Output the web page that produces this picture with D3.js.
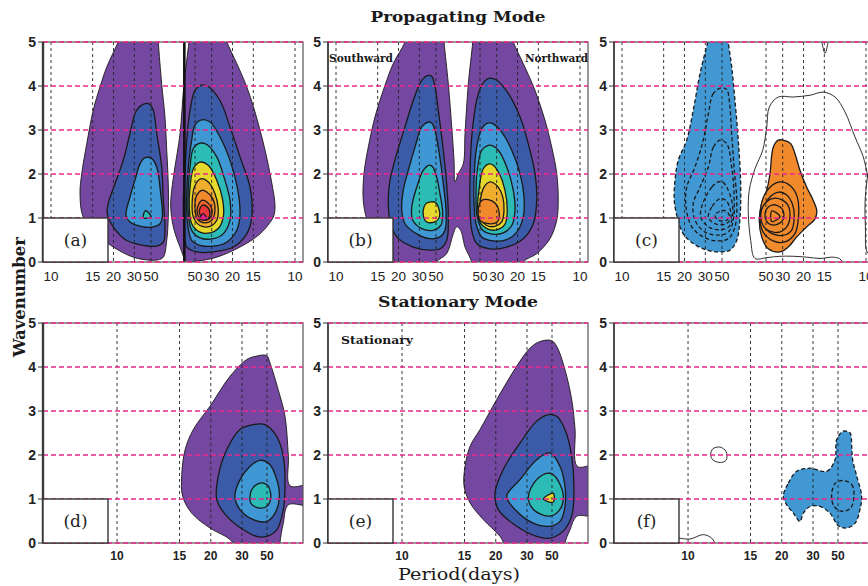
<!DOCTYPE html>
<html>
<meta charset="utf-8">
<head>
<script src="https://d3js.org/d3.v7.min.js"></script>
<style>
  body { margin: 0; background: #fff; }
</style>
</head>
<body>
<script>

// ---- data: contours as [level, [[frequency (cpd, + northward), wavenumber], ...]]
const periods = [10, 15, 20, 30, 50];
const waveTicks = [0, 1, 2, 3, 4, 5];
const panelLabels = ["(a)", "(b)", "(c)", "(d)", "(e)", "(f)"];
const aMarkFreq = 0.0103;

const aContours = [
  [1, [[-0.040,5.4],[-0.0462,5],[-0.0554,4.43],[-0.0608,3.98],[-0.0662,3.45],[-0.0714,2.69],[-0.0754,2.01],[-0.0768,1.55],[-0.0742,1.02],[-0.0634,0.64],[-0.0502,0.34],[-0.0342,0.11],[-0.0208,0.04],[-0.0134,0.05],[-0.0088,0.11],[-0.0057,0.49],[-0.0043,1.02],[-0.0043,1.78],[-0.0057,2.54],[-0.0073,3.3],[-0.0103,4.05],[-0.0134,5],[-0.0145,5.4]]],
  [2, [[-0.0248,3.6],[-0.0314,3.45],[-0.0368,2.92],[-0.0422,2.31],[-0.0488,1.78],[-0.0542,1.33],[-0.055,1.1],[-0.0502,0.8],[-0.0394,0.49],[-0.0262,0.38],[-0.0148,0.36],[-0.0088,0.45],[-0.0073,0.8],[-0.0088,1.4],[-0.0103,2.16],[-0.0148,2.92],[-0.0179,3.45],[-0.0208,3.58]]],
  [3, [[-0.0248,2.37],[-0.0288,2.23],[-0.0328,1.86],[-0.0368,1.48],[-0.040,1.06],[-0.0368,0.91],[-0.0262,0.8],[-0.0179,0.8],[-0.0118,0.87],[-0.0097,1.02],[-0.0112,1.55],[-0.0148,2.16],[-0.0194,2.35]]],
  [4, [[-0.026,1.0],[-0.0245,1.17],[-0.020,1.03]]],
  [1, [[0.016,5.4],[0.0145,5],[0.010,4.05],[0.0064,2.92],[0.0018,2.16],[-0.0012,1.63],[-0.0021,1.25],[0.0003,0.8],[0.0064,0.34],[0.0125,0.02],[0.0214,0.02],[0.0374,0.11],[0.056,0.34],[0.072,0.64],[0.0826,1.02],[0.084,1.25],[0.080,2.01],[0.072,3.0],[0.0614,3.98],[0.0454,5],[0.039,5.4]]],
  [2, [[0.0254,4.02],[0.020,3.9],[0.0155,3.45],[0.0125,2.77],[0.0109,2.01],[0.0094,1.4],[0.010,0.8],[0.0125,0.34],[0.0214,0.23],[0.0346,0.23],[0.0506,0.34],[0.0614,0.64],[0.0654,1.02],[0.064,1.7],[0.056,2.39],[0.048,3.07],[0.040,3.67],[0.0306,3.99]]],
  [3, [[0.0254,3.23],[0.020,3.11],[0.017,2.77],[0.0139,2.16],[0.0125,1.55],[0.013,0.95],[0.017,0.49],[0.024,0.38],[0.0346,0.36],[0.0454,0.45],[0.0534,0.72],[0.056,1.1],[0.0538,1.7],[0.048,2.31],[0.040,2.84],[0.032,3.18]]],
  [4, [[0.024,2.7],[0.0185,2.58],[0.0155,2.16],[0.0139,1.63],[0.0139,1.1],[0.017,0.72],[0.024,0.55],[0.0346,0.53],[0.0426,0.64],[0.048,0.95],[0.048,1.4],[0.0432,1.93],[0.0374,2.39],[0.0294,2.67]]],
  [5, [[0.024,2.27],[0.0185,2.12],[0.0155,1.7],[0.0148,1.25],[0.017,0.87],[0.024,0.68],[0.032,0.66],[0.0386,0.76],[0.0426,1.02],[0.0422,1.4],[0.0374,1.86],[0.0306,2.2]]],
  [6, [[0.0246,1.89],[0.020,1.74],[0.0175,1.4],[0.0185,1.02],[0.024,0.83],[0.032,0.81],[0.0374,0.95],[0.0386,1.21],[0.036,1.55],[0.0306,1.82]]],
  [7, [[0.0254,1.63],[0.0214,1.52],[0.020,1.25],[0.0218,0.98],[0.0272,0.89],[0.0334,0.95],[0.036,1.17],[0.0342,1.44],[0.0294,1.59]]],
  [8, [[0.0254,1.4],[0.0218,1.21],[0.0232,1.02],[0.028,0.95],[0.0326,1.02],[0.0334,1.21],[0.0298,1.36]]],
  [9, [[0.0258,1.29],[0.0234,1.14],[0.0258,1.01],[0.0298,0.98],[0.032,1.1],[0.0298,1.25]]],
  [10, [[0.0235,0.97],[0.0266,1.1],[0.0295,0.97]]]
];

const bContours = [
  [1, [[-0.041,5.4],[-0.0448,5],[-0.0542,4.51],[-0.0622,3.9],[-0.0688,3.3],[-0.0742,2.61],[-0.0776,2.01],[-0.0782,1.4],[-0.075,0.95],[-0.0674,0.57],[-0.0582,0.27],[-0.0528,0],[-0.050,-0.3],[-0.021,-0.3],[-0.0194,0],[-0.0103,0.19],[-0.0043,0.64],[-0.0012,0.8],[0.0024,0.72],[0.0064,0.34],[0.0125,0],[0.014,-0.3],[0.053,-0.3],[0.0546,0],[0.0654,0.19],[0.076,0.53],[0.0814,0.95],[0.0826,1.4],[0.0814,2.01],[0.0774,2.61],[0.072,3.22],[0.064,3.9],[0.0546,4.51],[0.0466,5],[0.042,5.4],[0.0145,5.4],[0.0134,5],[0.0094,4.05],[0.0064,2.92],[0.0048,2.23],[0.0003,2.01],[-0.0027,1.82],[-0.0036,2.31],[-0.0057,3.07],[-0.0088,4.05],[-0.0127,5],[-0.014,5.4]]],
  [2, [[-0.0262,4.24],[-0.0314,4.13],[-0.0382,3.67],[-0.0448,3.07],[-0.0514,2.46],[-0.0568,1.86],[-0.0582,1.4],[-0.0568,0.95],[-0.0514,0.57],[-0.0382,0.34],[-0.0248,0.27],[-0.0164,0.3],[-0.0103,0.49],[-0.0088,1.02],[-0.0103,1.78],[-0.0134,2.54],[-0.0179,3.45],[-0.0208,3.98],[-0.0234,4.22]]],
  [3, [[-0.0262,3.18],[-0.0314,3.07],[-0.0368,2.61],[-0.0422,2.08],[-0.0462,1.63],[-0.0474,1.17],[-0.0448,0.87],[-0.0354,0.64],[-0.0248,0.53],[-0.0164,0.57],[-0.0118,0.72],[-0.0109,1.17],[-0.0134,1.78],[-0.017,2.46],[-0.0208,2.99],[-0.0234,3.16]]],
  [4, [[-0.0254,2.2],[-0.0302,2.08],[-0.0354,1.7],[-0.0394,1.25],[-0.0386,0.95],[-0.0314,0.76],[-0.0222,0.72],[-0.0157,0.83],[-0.0139,1.1],[-0.0164,1.55],[-0.0194,1.93],[-0.0226,2.16]]],
  [5, [[-0.0274,1.34],[-0.0208,1.36],[-0.0179,1.25],[-0.017,1.02],[-0.0208,0.91],[-0.0274,0.91],[-0.0302,1.06],[-0.0296,1.25]]],
  [2, [[0.0266,4.17],[0.0214,4.02],[0.017,3.67],[0.0134,3.07],[0.0115,2.46],[0.0109,1.86],[0.0109,1.25],[0.0125,0.72],[0.017,0.42],[0.028,0.3],[0.0414,0.34],[0.0546,0.53],[0.0626,0.87],[0.0654,1.4],[0.064,2.01],[0.0586,2.69],[0.052,3.3],[0.0426,3.83],[0.0334,4.13]]],
  [3, [[0.0266,3.16],[0.0214,3.03],[0.017,2.61],[0.0148,2.01],[0.0145,1.4],[0.0164,0.87],[0.0214,0.57],[0.0306,0.48],[0.0414,0.51],[0.0494,0.68],[0.0546,1.02],[0.0552,1.48],[0.052,2.01],[0.0454,2.54],[0.0374,2.95],[0.0306,3.14]]],
  [4, [[0.0266,2.65],[0.0214,2.54],[0.0175,2.08],[0.0164,1.55],[0.0175,1.02],[0.0222,0.72],[0.0306,0.63],[0.0386,0.66],[0.0454,0.83],[0.048,1.17],[0.0466,1.63],[0.0414,2.16],[0.0346,2.54],[0.0302,2.64]]],
  [5, [[0.0274,2.23],[0.0226,2.12],[0.0194,1.7],[0.0179,1.25],[0.020,0.91],[0.0254,0.76],[0.0334,0.73],[0.040,0.86],[0.0418,1.17],[0.040,1.63],[0.0354,2.01],[0.0306,2.2]]],
  [6, [[0.028,1.82],[0.0232,1.7],[0.020,1.33],[0.0206,0.98],[0.0254,0.83],[0.032,0.81],[0.0374,0.91],[0.0392,1.17],[0.0382,1.48],[0.0346,1.7],[0.0306,1.8]]],
  [7, [[0.0214,1.4],[0.0266,1.42],[0.032,1.34],[0.0354,1.1],[0.0338,0.91],[0.0266,0.87],[0.020,0.95],[0.0185,1.21]]]
];

const cContours = [
  [-2, [[-0.028,5.4],[-0.0314,5],[-0.0376,4.28],[-0.043,3.45],[-0.0482,2.77],[-0.055,2.31],[-0.0576,1.86],[-0.0582,1.4],[-0.0558,1.02],[-0.051,0.64],[-0.043,0.42],[-0.0322,0.27],[-0.0216,0.23],[-0.0127,0.27],[-0.0066,0.49],[-0.0036,1.02],[-0.003,1.78],[-0.0052,2.77],[-0.0082,3.67],[-0.0112,4.44],[-0.0143,5],[-0.0155,5.4]]],
  [-3, [[-0.0202,3.96],[-0.0269,3.83],[-0.0309,3.37],[-0.035,2.77],[-0.0416,2.16],[-0.0482,1.7],[-0.0488,1.25],[-0.0442,0.8],[-0.035,0.57],[-0.0242,0.48],[-0.0143,0.53],[-0.0082,0.8],[-0.0066,1.4],[-0.0091,2.16],[-0.0112,2.92],[-0.0134,3.67],[-0.0157,3.92]]],
  [-4, [[-0.0216,2.77],[-0.0269,2.61],[-0.0309,2.16],[-0.0376,1.7],[-0.043,1.33],[-0.0416,0.95],[-0.0336,0.68],[-0.023,0.61],[-0.0143,0.68],[-0.0097,0.95],[-0.0091,1.55],[-0.0112,2.16],[-0.0157,2.69]]],
  [-5, [[-0.023,1.82],[-0.0282,1.7],[-0.0354,1.33],[-0.037,1.02],[-0.0309,0.8],[-0.0216,0.73],[-0.0134,0.81],[-0.0103,1.06],[-0.0112,1.4],[-0.0157,1.7],[-0.0194,1.82]]],
  [-6, [[-0.0216,1.44],[-0.0282,1.25],[-0.0309,1.02],[-0.0256,0.87],[-0.0173,0.86],[-0.0121,0.98],[-0.0127,1.21],[-0.0164,1.4]]],
  [-7, [[-0.0203,1.17],[-0.0256,1.06],[-0.023,0.95],[-0.0157,0.95],[-0.0134,1.06],[-0.0164,1.16]]],
  [1, [[0.010,0.08],[0.0061,0.49],[0.0039,1.1],[0.0048,1.63],[0.010,2.12],[0.017,2.54],[0.0206,3.07],[0.0226,3.52],[0.0298,3.75],[0.0418,3.75],[0.0552,3.79],[0.0658,3.86],[0.0752,3.75],[0.0832,3.41],[0.0912,2.84],[0.0978,2.39],[0.1016,1.93],[0.106,1.4],[0.107,-0.3],[0.083,-0.3],[0.080,0.05],[0.0739,0.11],[0.0632,0.08],[0.0526,0.11],[0.0418,0.13],[0.0312,0.13],[0.0206,0.1]]],
  [1, [[0.1035,2.1],[0.0998,1.6],[0.0995,0.8],[0.1015,0.2],[0.108,0.2],[0.108,2.1]]],
  [1, [[0.0644,5.3],[0.0672,4.74],[0.070,5.3]]],
  [2, [[0.0298,2.77],[0.0258,2.61],[0.0232,2.01],[0.0206,1.63],[0.0161,1.33],[0.0139,0.95],[0.0161,0.57],[0.0218,0.3],[0.0312,0.23],[0.0378,0.34],[0.0446,0.57],[0.0526,0.8],[0.0592,0.98],[0.0606,1.17],[0.0578,1.4],[0.0526,1.7],[0.0472,2.08],[0.0432,2.46],[0.0398,2.69],[0.0338,2.77]]],
  [3, [[0.0312,1.82],[0.021,1.63],[0.015,1.2],[0.017,0.7],[0.0258,0.48],[0.0345,0.45],[0.043,0.64],[0.046,1.02],[0.045,1.48],[0.0392,1.74]]],
  [4, [[0.0306,1.59],[0.022,1.44],[0.0175,1.1],[0.021,0.72],[0.0312,0.6],[0.040,0.7],[0.0426,1.02],[0.041,1.33],[0.0366,1.52]]],
  [5, [[0.0272,1.45],[0.0191,1.33],[0.0152,1.07],[0.0191,0.77],[0.0286,0.67],[0.0366,0.8],[0.0392,1.07],[0.0366,1.33]]],
  [6, [[0.0258,1.3],[0.020,1.18],[0.020,0.95],[0.0258,0.84],[0.0326,0.92],[0.0344,1.07],[0.0326,1.22]]],
  [7, [[0.0246,1.16],[0.0312,1.03],[0.0246,0.92]]]
];

const dContours = [
  [1, [[0.0264,4.24],[0.0308,4.17],[0.0397,3.79],[0.0504,3.11],[0.0593,2.58],[0.0637,2.12],[0.0655,1.52],[0.065,1.06],[0.0602,0.68],[0.0504,0.34],[0.0397,0.08],[0.0344,-0.2],[0.0131,-0.2],[0.0131,0.0],[0.0113,0.45],[0.0086,0.87],[-0.003,0.87],[-0.003,1.3],[0.0077,1.3],[0.0086,1.97],[0.0104,2.88],[0.014,3.48],[0.0184,4.09],[0.0202,4.26]]],
  [2, [[0.0273,2.69],[0.0344,2.58],[0.0415,2.12],[0.046,1.52],[0.0468,0.98],[0.0415,0.61],[0.0326,0.3],[0.0255,0.15],[0.0202,0.15],[0.0148,0.3],[0.0113,0.76],[0.0104,1.36],[0.0113,1.97],[0.0148,2.42],[0.0211,2.69]]],
  [3, [[0.0237,1.88],[0.0291,1.74],[0.0344,1.44],[0.0371,1.06],[0.0344,0.76],[0.0273,0.53],[0.0202,0.49],[0.0157,0.68],[0.0134,1.06],[0.0148,1.44],[0.0184,1.78]]],
  [4, [[0.0246,1.35],[0.0282,1.21],[0.0287,0.91],[0.0246,0.8],[0.0202,0.83],[0.018,1.02],[0.0193,1.29],[0.0219,1.36]]]
];

const eContours = [
  [1, [[0.0264,4.58],[0.0317,4.43],[0.0388,4.02],[0.0495,3.26],[0.0584,2.58],[0.0637,2.2],[0.0664,1.74],[0.0669,1.29],[0.0637,0.91],[0.0566,0.53],[0.0477,0.15],[0.0424,-0.2],[0.0131,-0.2],[0.0131,0.0],[0.0104,0.3],[0.0068,0.61],[-0.003,0.64],[-0.003,1.74],[0.0065,1.74],[0.0077,2.58],[0.0095,3.26],[0.0131,3.94],[0.0175,4.47],[0.0202,4.6]]],
  [2, [[0.022,2.92],[0.0282,2.77],[0.0371,2.27],[0.046,1.67],[0.0504,1.14],[0.0486,0.76],[0.0388,0.38],[0.0282,0.15],[0.0211,0.11],[0.014,0.27],[0.0095,0.61],[0.0083,1.21],[0.0095,1.97],[0.0131,2.58],[0.0175,2.88]]],
  [3, [[0.0211,2.05],[0.0282,1.89],[0.0371,1.44],[0.0442,1.06],[0.0388,0.72],[0.030,0.45],[0.0211,0.38],[0.0157,0.49],[0.0131,0.83],[0.0131,1.29],[0.0157,1.74]]],
  [4, [[0.0219,1.59],[0.0282,1.44],[0.0326,1.06],[0.0299,0.76],[0.0219,0.61],[0.0166,0.72],[0.0139,1.02],[0.016,1.36],[0.0193,1.55]]],
  [5, [[0.0246,1.0],[0.0193,1.13],[0.0193,0.93]]]
];

const fContours = [
  [-2, [[0.0492,1.06],[0.0465,1.36],[0.042,1.63],[0.0349,1.7],[0.026,1.63],[0.0216,1.89],[0.0207,2.35],[0.0172,2.54],[0.0136,2.5],[0.0127,2.2],[0.0122,1.89],[0.010,1.52],[0.0074,1.06],[0.0083,0.76],[0.0109,0.45],[0.0154,0.34],[0.0198,0.39],[0.0243,0.68],[0.0296,0.83],[0.0349,0.83],[0.0385,0.68],[0.0403,0.49],[0.0438,0.68],[0.0474,0.87]]],
  [-3, [[0.0175,1.42],[0.0127,1.33],[0.0115,1.06],[0.0132,0.8],[0.0175,0.72],[0.0221,0.83],[0.0234,1.1],[0.0216,1.35]]],
  [1, [[0.0868,2.14],[0.0829,2.18],[0.0797,2.08],[0.0797,1.88],[0.0829,1.83],[0.0868,1.89],[0.0879,2.01]]]
];
const fOpenLines = [
  [1, [[0.112,0.12],[0.1048,0.11],[0.099,0.09],[0.0918,0.19],[0.0874,0.11],[0.0851,-0.05]]]
];

// ---- layout
const width = 868, height = 586;
const pw = 260, ph = 220;
const colX = [43, 328, 614], rowY = [42, 323];
const palette = ["#7447a0", "#3b5aa8", "#3f97d4", "#2dbbb6", "#e6d92e", "#efae2e", "#f08a2c", "#f0642e", "#e8383a", "#e0208a"];
const negFill = "#4298d2", posFill = "#f08a2c";
const magenta = "#e8288c";
const serif = "'DejaVu Serif', serif";
const sans = "'Liberation Sans', Arial, sans-serif";

const svg = d3.select("body").append("svg")
    .attr("width", width)
    .attr("height", height);

// symmetric frequency axis for the propagating mode, one-sided for stationary
const xTop = d3.scaleLinear().domain([-0.1064, -0.02, 0.02, 0.1064]).range([0, 108, 152, 260]);
const xBot = d3.scaleLinear().domain([0.1395, 0.0008]).range([0, 260]);
const y = d3.scaleLinear().domain([0, 5]).range([ph, 0]);

const panels = [
  {row: 0, col: 0, data: aContours, kind: "power", mark: aMarkFreq},
  {row: 0, col: 1, data: bContours, kind: "power"},
  {row: 0, col: 2, data: cContours, kind: "diff"},
  {row: 1, col: 0, data: dContours, kind: "power"},
  {row: 1, col: 1, data: eContours, kind: "power"},
  {row: 1, col: 2, data: fContours, kind: "diff", lines: fOpenLines}
];

function fillFor(kind, lvl) {
  if (kind === "power") return palette[lvl - 1];
  if (lvl <= -2) return negFill;
  if (lvl >= 2) return posFill;
  return "none";
}

panels.forEach((p, i) => {
  const x = p.row === 0 ? xTop : xBot;
  const g = svg.append("g").attr("transform", `translate(${colX[p.col]},${rowY[p.row]})`);
  const cid = "clip" + i;
  g.append("clipPath").attr("id", cid)
    .append("rect").attr("width", pw).attr("height", ph);
  const body = g.append("g").attr("clip-path", `url(#${cid})`);

  const closed = d3.line().x(d => x(d[0])).y(d => y(d[1])).curve(d3.curveCatmullRomClosed.alpha(0.5));
  const open = d3.line().x(d => x(d[0])).y(d => y(d[1])).curve(d3.curveCatmullRom.alpha(0.5));

  const sorted = p.data.slice().sort((a, b) => Math.abs(a[0]) - Math.abs(b[0]));
  body.selectAll("path.c").data(sorted).join("path")
      .attr("class", "c")
      .attr("d", d => closed(d[1]))
      .attr("fill", d => fillFor(p.kind, d[0]))
      .attr("stroke", "#1a1a1a")
      .attr("stroke-width", d => Math.abs(d[0]) === 1 ? 0.9 : 1.3)
      .attr("stroke-dasharray", d => d[0] < 0 ? "4,2.5" : null);

  if (p.lines) {
    body.selectAll("path.o").data(p.lines).join("path")
        .attr("class", "o")
        .attr("d", d => open(d[1]))
        .attr("fill", "none")
        .attr("stroke", "#1a1a1a")
        .attr("stroke-width", 0.9);
  }

  if (p.mark != null) {
    body.append("line")
        .attr("x1", x(p.mark)).attr("x2", x(p.mark))
        .attr("y1", 0).attr("y2", ph)
        .attr("stroke", "#111").attr("stroke-width", 2.6);
  }

  // period grid
  const tickF = p.row === 0 ? periods.flatMap(P => [-1 / P, 1 / P]) : periods.map(P => 1 / P);
  body.selectAll("line.v").data(tickF).join("line")
      .attr("class", "v")
      .attr("x1", d => x(d)).attr("x2", d => x(d))
      .attr("y1", 0).attr("y2", ph)
      .attr("stroke", "#222").attr("stroke-width", 0.9)
      .attr("stroke-dasharray", "3,3");

  // frame
  g.append("rect").attr("width", pw).attr("height", ph)
      .attr("fill", "none").attr("stroke", "#555").attr("stroke-width", 1.2);

  // wavenumber grid
  g.selectAll("line.h").data(waveTicks).join("line")
      .attr("class", "h")
      .attr("x1", 0).attr("x2", pw)
      .attr("y1", d => y(d)).attr("y2", d => y(d))
      .attr("stroke", magenta).attr("stroke-width", 1.4)
      .attr("stroke-dasharray", "5,3");

  g.append("line").attr("x1", 0).attr("x2", 0).attr("y1", 0).attr("y2", ph)
      .attr("stroke", "#3a3a3a").attr("stroke-width", p.col === 0 ? 2.4 : 1.6);

  // y ticks
  g.selectAll("line.yt").data(waveTicks).join("line")
      .attr("class", "yt")
      .attr("x1", -5).attr("x2", 0)
      .attr("y1", d => y(d)).attr("y2", d => y(d))
      .attr("stroke", "#333").attr("stroke-width", 1);
  g.selectAll("text.yl").data(waveTicks).join("text")
      .attr("class", "yl")
      .attr("x", -7).attr("y", d => y(d))
      .attr("dy", "0.36em")
      .attr("text-anchor", "end")
      .attr("font-family", sans).attr("font-weight", "bold").attr("font-size", 14)
      .attr("fill", "#222")
      .text(d => d);

  // period labels
  const labF = p.row === 0 ? periods.flatMap(P => [[-1 / P, P], [1 / P, P]]) : periods.map(P => [1 / P, P]);
  g.selectAll("text.xl").data(labF).join("text")
      .attr("class", "xl")
      .attr("x", d => x(d[0]))
      .attr("y", ph + (p.row === 0 ? 19 : 17))
      .attr("text-anchor", "middle")
      .attr("font-family", sans)
      .attr("font-weight", p.row === 0 ? "normal" : "bold")
      .attr("font-size", p.row === 0 ? 13.5 : 12)
      .attr("fill", "#222")
      .text(d => d[1]);

  // panel label box
  g.append("rect")
      .attr("x", 0).attr("y", y(1))
      .attr("width", 65).attr("height", y(0) - y(1))
      .attr("fill", "#fff").attr("stroke", "#333").attr("stroke-width", 1.4);
  g.append("text")
      .attr("x", 32.5).attr("y", y(0.5) + 6)
      .attr("text-anchor", "middle")
      .attr("font-family", serif).attr("font-size", 17)
      .attr("fill", "#222")
      .text(panelLabels[i]);
});

// titles and annotations
function label(txt, xPos, yPos, size, weight, len, anchor) {
  return svg.append("text")
      .attr("x", xPos).attr("y", yPos)
      .attr("text-anchor", anchor || "middle")
      .attr("font-family", serif)
      .attr("font-size", size)
      .attr("font-weight", weight)
      .attr("fill", "#1a1a1a")
      .attr("textLength", len)
      .attr("lengthAdjust", "spacingAndGlyphs")
      .text(txt);
}

label("Propagating Mode", 458, 22, 15, "bold", 175);
label("Stationary Mode", 458, 307, 15, "bold", 160);
label("Period(days)", 459, 580, 17, "normal", 122);
label("Southward", 329, 62, 10.5, "bold", 64, "start");
label("Northward", 588, 62, 10.5, "bold", 63, "end");
label("Stationary", 341, 344, 10.5, "bold", 72, "start");
label("Wavenumber", 0, 0, 16, "bold", 120)
    .attr("transform", "translate(25,297) rotate(-90)");

</script>
</body>
</html>
